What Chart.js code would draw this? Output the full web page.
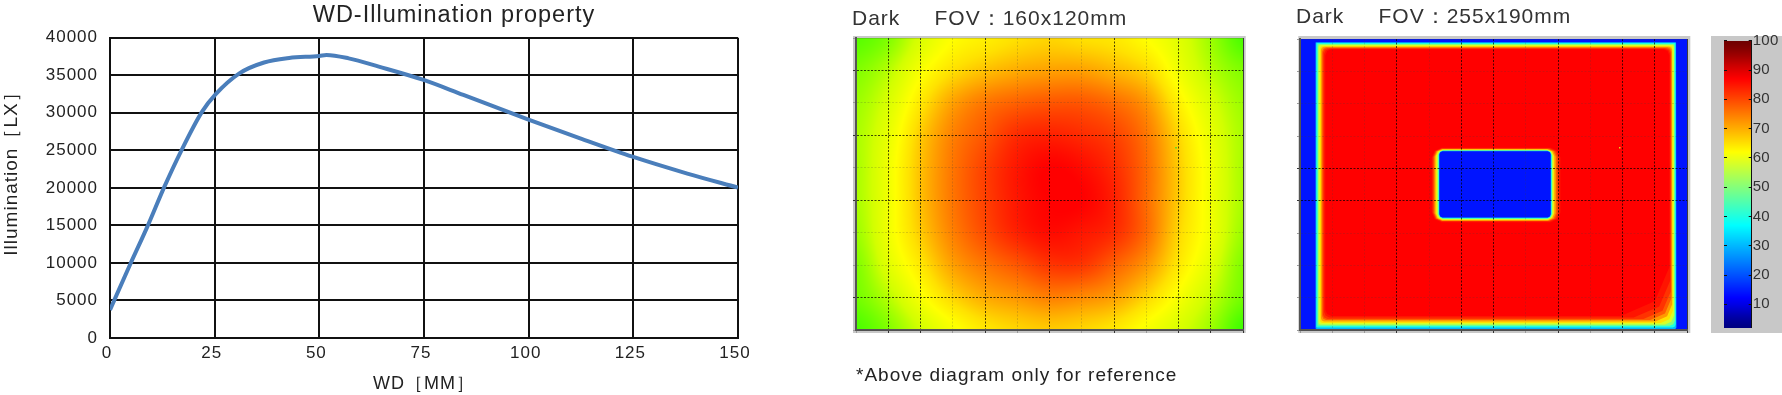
<!DOCTYPE html>
<html lang="en">
<head>
  <meta charset="UTF-8" />
  <title>WD-Illumination property</title>
  <style>
    body { margin: 0; background: #fff; width: 1782px; height: 395px; overflow: hidden; position: relative; }
    canvas { position: absolute; }
    #lineChart { left: 0; top: 0; }
    #darkA { left: 852px; top: 0; }
    #darkB { left: 1295.7px; top: 0; }
    #scaleBar { left: 1711px; top: 20px; }
  </style>
</head>
<body>
  <canvas id="lineChart" width="908" height="395"></canvas>
  <canvas id="darkA" width="395" height="395"></canvas>
  <canvas id="darkB" width="395" height="395"></canvas>
  <canvas id="scaleBar" width="71" height="325"></canvas>

  <script src="https://cdn.jsdelivr.net/npm/chart.js"></script>
  <script>
    // --- WD curve ---
    const wd =  [0, 4.75, 8.9, 13, 16.9, 22, 25.2, 30.9, 36.8, 42.8, 50, 51.7, 57, 64.2, 74.9, 84.4, 99.8, 112.3, 124.8, 137.9, 150];
    const lux = [3730, 9730, 14800, 20160, 24800, 30150, 32450, 35250, 36700, 37300, 37570, 37700, 37250, 36150, 34370, 32370, 29130, 26600, 24150, 21900, 20030];

    // --- FOV 160x120: values at the grid crossings, top row first ---
    const fovAX = [0, 13.3, 26.7, 40, 53.3, 66.7, 80, 93.3, 106.7, 120, 133.3, 146.7, 160];
    const fovAY = [0, 13.3, 26.7, 40, 53.3, 66.7, 80, 93.3, 106.7, 120];
    const fovAValues = [
      [47, 50, 57, 62, 64, 66, 67, 66, 65, 62, 58, 52, 46],
      [50, 54, 61, 66, 69, 71, 72, 72, 70, 67, 60, 54, 50],
      [52, 57, 65, 72, 76, 78, 79, 79, 77, 73, 64, 57, 52],
      [53, 59, 68, 75, 79, 83, 84, 83, 81, 76, 67, 59, 53],
      [53, 60, 69, 76, 81, 85, 87, 86, 83, 77, 68, 60, 53],
      [53, 60, 69, 76, 81, 85, 87, 87, 84, 77, 68, 60, 53],
      [52, 60, 68, 75, 80, 84, 86, 85, 83, 77, 67, 60, 52],
      [50, 58, 65, 72, 76, 79, 82, 82, 78, 73, 65, 58, 50],
      [49, 54, 61, 67, 71, 73, 75, 74, 72, 67, 61, 55, 49],
      [46, 50, 56, 61, 65, 67, 68, 67, 65, 61, 57, 52, 45]
    ];

    // --- FOV 255x190: nested iso-level outlines in mm, painted in this order ---
    const isoLevel =  [14, 30, 40, 50, 58, 65, 72, 78, 82, 85, 87, 85, 82, 78, 72, 65, 58, 50, 40, 30, 14];
    const isoLeft =   [0, 10.2, 10.7, 11.5, 12.2, 13.1, 13.8, 14.6, 15.1, 15.9, 16.7, 86.8, 87.4, 88, 88.6, 89.3, 90, 90.7, 91.2, 91.6, 91.8];
    const isoRight =  [255, 248, 247.6, 247, 246.5, 245.7, 245.2, 244.7, 244.3, 243.9, 243.4, 171.6, 170.6, 169.6, 168.6, 167.6, 167, 166.3, 165.9, 165.5, 165.2];
    const isoTop =    [0, 2.15, 2.6, 3.3, 3.85, 4.6, 5.1, 5.6, 6, 6.3, 6.7, 71, 71.3, 71.6, 71.8, 72.1, 72.3, 72.6, 72.9, 73, 73.3];
    const isoBottom = [190, 189.3, 188.3, 187.3, 186.4, 185.4, 184.4, 183.4, 182.8, 181.8, 180.8, 119.6, 119.2, 118.9, 118.7, 118.3, 118, 117.6, 117.2, 116.8, 116.5];
    const isoCut =    [0, 0.7, 0.8, 1, 1.3, 1.7, 2, 2.5, 3, 3.5, 4, 6.5, 6, 5.5, 5, 4.5, 4, 3.5, 3, 2.5, 2];
    const isoCutBR =  [0, 1, 2, 3.5, 6, 8, 11, 14, 18, 24, 32, 6.5, 6, 5.5, 5, 4.5, 4, 3.5, 3, 2.5, 2];

    // --- colour scale ---
    const barTicks = [10, 20, 30, 40, 50, 60, 70, 80, 90, 100];
    const barLevels = [2, 10, 20, 30, 40, 50, 60, 70, 80, 90, 100];

    const jetStops = [[2, 0, 0, 130], [12, 0, 0, 255], [37, 0, 255, 255], [62, 255, 255, 0], [87, 255, 0, 0], [100, 110, 0, 0]];
    const fovAStops = [[45, 60, 255, 0], [56, 210, 255, 0], [62, 255, 255, 0], [66, 255, 225, 0], [87, 255, 0, 0]];

    // grid lines that print dark, the others are faint
    const darkAX = [1, 2, 4, 6, 8, 10, 11];
    const darkAY = [1, 3, 5, 8];
    const darkBX = [3, 5, 6, 8, 10, 11];
    const darkBY = [4, 5];

    function colorAt(stops, v) {
      if (v <= stops[0][0]) return stops[0].slice(1);
      for (let i = 1; i < stops.length; i++) {
        if (v <= stops[i][0]) {
          const a = stops[i - 1], b = stops[i], t = (v - a[0]) / (b[0] - a[0]);
          return [a[1] + (b[1] - a[1]) * t, a[2] + (b[2] - a[2]) * t, a[3] + (b[3] - a[3]) * t];
        }
      }
      return stops[stops.length - 1].slice(1);
    }

    function cellIndex(list, v) {
      let i = 0;
      while (i < list.length - 2 && v > list[i + 1]) i++;
      return i;
    }

    // Catmull-Rom step so the crossings do not show as creases
    function curve(a, b, c, d, t) {
      return b + 0.5 * t * (c - a + t * (2 * a - 5 * b + 4 * c - d + t * (3 * (b - c) + d - a)));
    }

    function sampleRow(row, i, t) {
      const n = row.length - 1;
      return curve(row[Math.max(i - 1, 0)], row[i], row[i + 1], row[Math.min(i + 2, n)], t);
    }

    // --- paints the value grid through the chart's scales ---
    const shadePlugin = {
      id: 'shade',
      beforeDraw(chart, args, opts) {
        const ctx = chart.ctx, area = chart.chartArea;
        ctx.letterSpacing = opts.spacing || '0px';
        if (opts.frame) {
          const f = opts.frame;
          ctx.fillStyle = '#c8c8c8';
          ctx.fillRect(area.left - f[0], area.top - f[1], area.width + f[0] + f[2], area.height + f[1] + f[3]);
        }
        if (!opts.values) return;
        const x0 = Math.round(area.left), y0 = Math.round(area.top);
        const w = Math.round(area.right) - x0, h = Math.round(area.bottom) - y0;
        const img = ctx.createImageData(w, h);
        const last = opts.ys.length - 1;
        for (let py = 0; py < h; py++) {
          const vy = chart.scales.y.getValueForPixel(y0 + py + 0.5);
          const j = cellIndex(opts.ys, vy);
          const ty = Math.min(1, Math.max(0, (vy - opts.ys[j]) / (opts.ys[j + 1] - opts.ys[j])));
          for (let px = 0; px < w; px++) {
            const vx = chart.scales.x.getValueForPixel(x0 + px + 0.5);
            const i = cellIndex(opts.xs, vx);
            const tx = Math.min(1, Math.max(0, (vx - opts.xs[i]) / (opts.xs[i + 1] - opts.xs[i])));
            const v = curve(
              sampleRow(opts.values[Math.max(j - 1, 0)], i, tx),
              sampleRow(opts.values[j], i, tx),
              sampleRow(opts.values[j + 1], i, tx),
              sampleRow(opts.values[Math.min(j + 2, last)], i, tx),
              ty
            );
            const c = colorAt(opts.stops, v), k = (py * w + px) * 4;
            img.data[k] = c[0]; img.data[k + 1] = c[1]; img.data[k + 2] = c[2]; img.data[k + 3] = 255;
          }
        }
        ctx.putImageData(img, x0, y0);
      }
    };
    Chart.register(shadePlugin);

    function pin(size) {
      return s => {
        if (s.isHorizontal()) s.height = size; else s.width = size;
        s.paddingLeft = s.paddingRight = s.paddingTop = s.paddingBottom = 0;
      };
    }

    // --- 1) WD-Illumination curve ---
    new Chart(document.getElementById('lineChart'), {
      type: 'scatter',
      data: {
        datasets: [{
          data: wd.map((x, i) => ({ x: x, y: lux[i] })),
          showLine: true,
          borderColor: '#4a7ebb',
          borderWidth: 4,
          pointRadius: 0,
          cubicInterpolationMode: 'monotone'
        }]
      },
      options: {
        responsive: false,
        animation: false,
        plugins: {
          legend: { display: false },
          tooltip: { enabled: false },
          shade: { spacing: '1px' },
          title: {
            display: true,
            text: 'WD-Illumination property',
            color: '#222',
            font: { family: 'Liberation Sans', size: 23.5, weight: 'normal', lineHeight: 1 },
            padding: { top: 4, bottom: 10.2 }
          }
        },
        scales: {
          x: {
            type: 'linear', min: 0, max: 150,
            afterFit: pin(57),
            ticks: { stepSize: 25, color: '#222', padding: 5, labelOffset: -3, maxRotation: 0, font: { family: 'Liberation Sans', size: 17 } },
            grid: { color: '#111', lineWidth: 2, drawTicks: false },
            border: { color: '#111', width: 2 },
            title: {
              display: true, text: 'WD［MM］', color: '#222',
              font: { family: 'Liberation Sans', size: 18 }, padding: { top: 0, bottom: 0.5 }
            }
          },
          y: {
            min: 0, max: 40000,
            afterFit: pin(110),
            ticks: { stepSize: 5000, color: '#222', padding: 12, callback: v => String(v), font: { family: 'Liberation Sans', size: 17 } },
            grid: { color: '#111', lineWidth: 2, drawTicks: false },
            border: { color: '#111', width: 2 },
            title: {
              display: true, text: '      Illumination［LX］', color: '#222',
              font: { family: 'Liberation Sans', size: 19 }, padding: { top: 0, bottom: 0 }
            }
          },
          // empty axis holding the room right of the plot, so the title centres on the whole canvas
          spare: {
            type: 'linear', position: 'right', min: 0, max: 1,
            afterFit: pin(170),
            ticks: { display: false },
            grid: { display: false },
            border: { display: false }
          }
        }
      }
    });

    // --- shared axis setup for the two maps ---
    function mapAxis(max, parts, darkList) {
      return {
        type: 'linear', min: 0, max: max,
        afterBuildTicks: s => { s.ticks = Array.from({ length: parts + 1 }, (_, i) => ({ value: max * i / parts })); },
        ticks: { display: false },
        grid: {
          z: 1,
          lineWidth: 1,
          tickLength: 3,
          color: c => darkList.includes(c.index) ? 'rgba(0,0,0,0.7)' : 'rgba(60,60,60,0.2)',
          tickColor: c => darkList.includes(c.index) ? '#333' : '#999'
        },
        border: { z: 1, color: '#555', width: 2, dash: c => (c.index === 0 || c.index === parts) ? [] : [2, 1.5] }
      };
    }

    // --- 2) Dark FOV 160x120 ---
    const axAX = mapAxis(160, 12, darkAX.concat([12]));
    axAX.afterFit = pin(65);
    axAX.title = {
      display: true, align: 'start', text: '*Above diagram only for reference', color: '#222',
      font: { family: 'Liberation Sans', size: 19 }, padding: { top: 0, bottom: 8 }
    };
    const axAY = mapAxis(120, 9, darkAY);
    axAY.reverse = true;
    axAY.afterFit = pin(3);

    new Chart(document.getElementById('darkA'), {
      type: 'scatter',
      data: {
        datasets: [{
          data: [{ x: 132.3, y: 45.1 }],
          pointStyle: 'rect', pointRadius: 1, borderWidth: 0, backgroundColor: '#30e030'
        }]
      },
      options: {
        responsive: false,
        animation: false,
        layout: { padding: { right: 3 } },
        plugins: {
          legend: { display: false },
          tooltip: { enabled: false },
          shade: { spacing: '1px', frame: [3, 2, 2.7, 3], xs: fovAX, ys: fovAY, values: fovAValues, stops: fovAStops },
          title: {
            display: true, align: 'start', text: 'Dark     FOV：160x120mm', color: '#333',
            font: { family: 'Liberation Sans', size: 21, weight: 'normal', lineHeight: 1 },
            padding: { top: 8.5, bottom: 8.5 }
          }
        },
        scales: { x: axAX, y: axAY }
      }
    });

    // --- 3) Dark FOV 255x190 ---
    function isoOutline(i) {
      const l = isoLeft[i], r = isoRight[i], t = isoTop[i], b = isoBottom[i], c = isoCut[i], d = isoCutBR[i];
      return [
        { x: l + c, y: t }, { x: r - c, y: t }, { x: r - c * 0.3, y: t + c * 0.3 }, { x: r, y: t + c },
        { x: r, y: b - d }, { x: r - d * 0.3, y: b - d * 0.3 }, { x: r - d, y: b },
        { x: l + c, y: b }, { x: l + c * 0.3, y: b - c * 0.3 }, { x: l, y: b - c },
        { x: l, y: t + c }, { x: l + c * 0.3, y: t + c * 0.3 }, { x: l + c, y: t }
      ];
    }

    const isoSets = isoLevel.map((level, i) => {
      const c = colorAt(jetStops, level);
      return {
        data: isoOutline(i),
        showLine: true,
        fill: 'shape',
        borderWidth: 0,
        pointRadius: 0,
        backgroundColor: 'rgb(' + c.map(Math.round).join(',') + ')',
        order: isoLevel.length - i + 1
      };
    });
    isoSets.push({
      data: [{ x: 210.7, y: 71 }],
      pointStyle: 'rect', pointRadius: 1, borderWidth: 0, backgroundColor: '#e8e020', order: 0
    });

    const axBX = mapAxis(255, 12, darkBX.concat([12]));
    axBX.afterFit = pin(65);
    const axBY = mapAxis(190, 9, darkBY);
    axBY.reverse = true;
    axBY.afterFit = pin(2);

    new Chart(document.getElementById('darkB'), {
      type: 'scatter',
      data: { datasets: isoSets },
      options: {
        responsive: false,
        animation: false,
        layout: { padding: { right: 3 } },
        plugins: {
          legend: { display: false },
          tooltip: { enabled: false },
          shade: { spacing: '1px', frame: [1.7, 3, 3.3, 3] },
          title: {
            display: true, align: 'start', text: 'Dark     FOV：255x190mm', color: '#333',
            font: { family: 'Liberation Sans', size: 21, weight: 'normal', lineHeight: 1 },
            padding: { top: 7, bottom: 11 }
          }
        },
        scales: { x: axBX, y: axBY }
      }
    });

    // --- 4) colour scale ---
    const barRows = barLevels.map(v => [v, v]);
    const setBarTicks = s => { s.ticks = barTicks.map(v => ({ value: v })); };

    new Chart(document.getElementById('scaleBar'), {
      type: 'scatter',
      data: { datasets: [{ data: [] }] },
      options: {
        responsive: false,
        animation: false,
        layout: { padding: { top: 20.8, bottom: 17.3 } },
        plugins: {
          legend: { display: false },
          tooltip: { enabled: false },
          shade: { spacing: '0.3px', frame: [13, 4.8, 30.3, 5.3], xs: [0, 1], ys: barLevels, values: barRows, stops: jetStops }
        },
        scales: {
          x: { type: 'linear', min: 0, max: 1, display: false },
          y: {
            min: 2, max: 100, position: 'right',
            afterBuildTicks: setBarTicks,
            afterFit: pin(30.3),
            ticks: { color: '#333', padding: 4, font: { family: 'Liberation Sans', size: 15 } },
            grid: { z: 1, drawOnChartArea: false, tickLength: -3, tickColor: '#111' },
            border: { z: 1, color: '#111', width: 1 }
          },
          yl: {
            min: 2, max: 100, position: 'left',
            afterBuildTicks: setBarTicks,
            afterFit: pin(13),
            ticks: { display: false },
            grid: { z: 1, drawOnChartArea: false, tickLength: -3, tickColor: '#111' },
            border: { display: false }
          }
        }
      }
    });
  </script>
</body>
</html>
